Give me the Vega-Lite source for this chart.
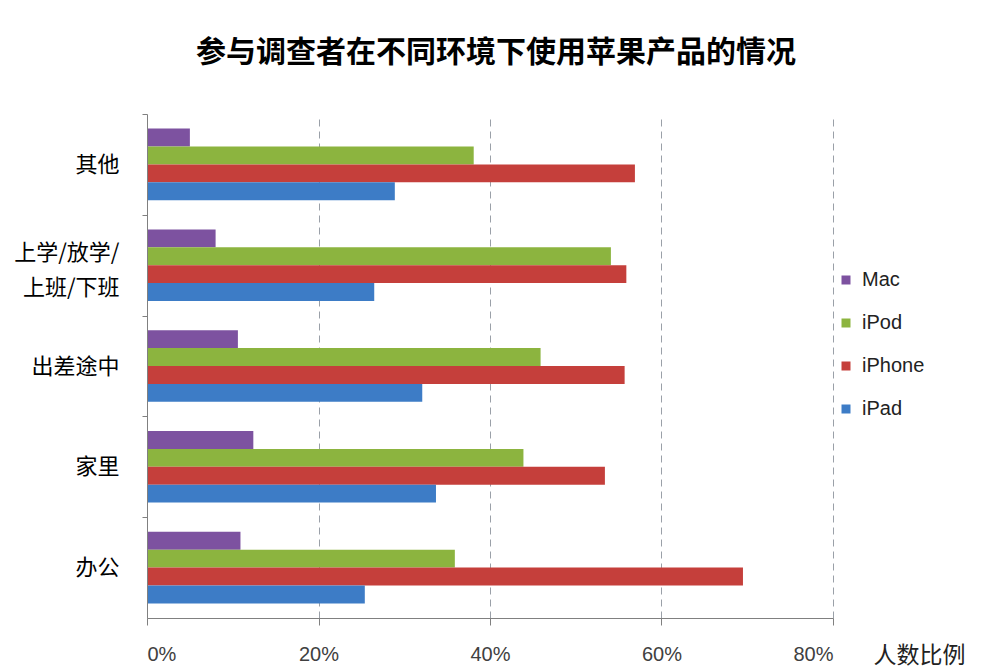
{
  "$schema": "https://vega.github.io/schema/vega-lite/v6.json",
  "width": 686,
  "height": 504,
  "autosize": {"type": "none"},
  "padding": {"left": 147, "top": 114, "right": 157, "bottom": 50},
  "background": "white",
  "title": {
    "text": "参与调查者在不同环境下使用苹果产品的情况",
    "font": "Noto Sans CJK SC",
    "fontSize": 30,
    "fontWeight": "bold",
    "color": "#000000",
    "anchor": "middle",
    "offset": 46,
    "dx": 6
  },
  "config": {
    "view": {"stroke": null},
    "font": "Liberation Sans"
  },
  "data": {
    "values": [
      {"场景": "其他", "产品": "Mac", "比例": 0.050},
      {"场景": "其他", "产品": "iPod", "比例": 0.381},
      {"场景": "其他", "产品": "iPhone", "比例": 0.569},
      {"场景": "其他", "产品": "iPad", "比例": 0.289},
      {"场景": "上学/放学/上班/下班", "产品": "Mac", "比例": 0.080},
      {"场景": "上学/放学/上班/下班", "产品": "iPod", "比例": 0.541},
      {"场景": "上学/放学/上班/下班", "产品": "iPhone", "比例": 0.559},
      {"场景": "上学/放学/上班/下班", "产品": "iPad", "比例": 0.265},
      {"场景": "出差途中", "产品": "Mac", "比例": 0.106},
      {"场景": "出差途中", "产品": "iPod", "比例": 0.459},
      {"场景": "出差途中", "产品": "iPhone", "比例": 0.557},
      {"场景": "出差途中", "产品": "iPad", "比例": 0.321},
      {"场景": "家里", "产品": "Mac", "比例": 0.124},
      {"场景": "家里", "产品": "iPod", "比例": 0.439},
      {"场景": "家里", "产品": "iPhone", "比例": 0.534},
      {"场景": "家里", "产品": "iPad", "比例": 0.337},
      {"场景": "办公", "产品": "Mac", "比例": 0.109},
      {"场景": "办公", "产品": "iPod", "比例": 0.359},
      {"场景": "办公", "产品": "iPhone", "比例": 0.695},
      {"场景": "办公", "产品": "iPad", "比例": 0.254}
    ]
  },
  "mark": {"type": "bar", "orient": "horizontal"},
  "encoding": {
    "y": {
      "field": "场景",
      "type": "nominal",
      "sort": ["其他", "上学/放学/上班/下班", "出差途中", "家里", "办公"],
      "scale": {"paddingInner": 0.29, "paddingOuter": 0.145},
      "axis": {
        "title": null,
        "zindex": 1,
        "tickOffset": -50.4,
        "tickSize": 5,
        "tickColor": "#808080",
        "domainColor": "#808080",
        "labelFont": "Noto Sans CJK SC",
        "labelFontSize": 22,
        "labelColor": "#000000",
        "labelPadding": 23,
        "labelLineHeight": 35,
        "labelOffset": {"condition": {"test": "datum.label == '上学/放学/上班/下班'", "value": 37.4}, "value": 50.4},
        "labelExpr": "datum.label == '上学/放学/上班/下班' ? ['上学/放学/', '上班/下班'] : datum.label"
      }
    },
    "yOffset": {
      "field": "产品",
      "type": "nominal",
      "sort": ["Mac", "iPod", "iPhone", "iPad"],
      "scale": {"paddingInner": 0, "paddingOuter": 0}
    },
    "x": {
      "field": "比例",
      "type": "quantitative",
      "scale": {"domain": [0, 0.8]},
      "axis": {
        "values": [0, 0.2, 0.4, 0.6, 0.8],
        "format": ".0%",
        "title": "人数比例",
        "titleFont": "Noto Sans CJK SC",
        "titleFontSize": 23,
        "titleFontWeight": "normal",
        "titleColor": "#222222",
        "titleAlign": "left",
        "titleBaseline": "middle",
        "titleX": 726,
        "titleY": 37,
        "titleAngle": 0,
        "labelFontSize": 20,
        "labelColor": "#404040",
        "labelPadding": 19,
        "tickSize": 7,
        "tickColor": "#808080",
        "domainColor": "#808080",
        "grid": true,
        "gridDash": [7, 5],
        "gridColor": "#9AA0A8",
        "gridWidth": 1
      }
    },
    "color": {
      "field": "产品",
      "type": "nominal",
      "scale": {
        "domain": ["Mac", "iPod", "iPhone", "iPad"],
        "range": ["#7D52A0", "#8CB43F", "#C53F3B", "#3D7CC6"]
      },
      "legend": {
        "title": null,
        "orient": "none",
        "legendX": 689,
        "legendY": 156,
        "symbolType": "square",
        "symbolSize": 81,
        "symbolStrokeWidth": 0,
        "labelFontSize": 20,
        "labelColor": "#222222",
        "labelOffset": 6,
        "rowPadding": 23
      }
    }
  }
}
